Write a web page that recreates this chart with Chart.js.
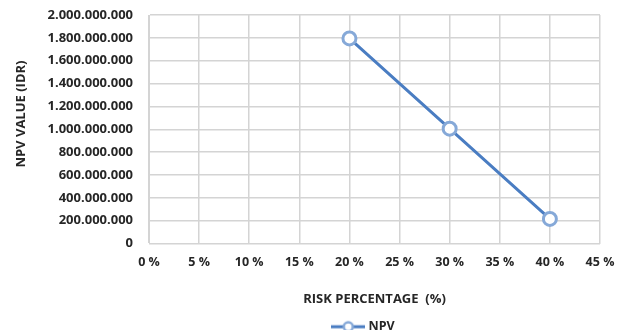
<!DOCTYPE html>
<html>
<head>
<meta charset="utf-8">
<script src="https://cdn.jsdelivr.net/npm/chart.js@4"></script>
<style>
  html, body { margin: 0; padding: 0; background: #ffffff; }
  #wrap { width: 623px; height: 330px; }
</style>
</head>
<body>
<div id="wrap"><canvas id="c" width="623" height="330"></canvas></div>
<script>
// Risk percentage (%) and resulting NPV (IDR)
const riskPct = [20, 30, 40];
const npvValues = [1795000000, 1005000000, 215000000];
const seriesName = 'NPV';
const xTitle = 'RISK PERCENTAGE  (%)';
// leading spaces lift the rotated title a little above the plot's middle
const yTitle = '         NPV VALUE (IDR)';

const LINE = '#4a7dc2';
const MARK = '#86a9d8';
const GRID = '#d4d4d4';
const TEXT = '#262626';
const FONT = '"Open Sans", "DejaVu Sans", sans-serif';

function dotted(n) {
  return String(Math.round(n)).replace(/\B(?=(\d{3})+(?!\d))/g, '.');
}

// legend icon: short line with a hollow circle
function legendIcon() {
  const cv = document.createElement('canvas');
  cv.width = 34; cv.height = 14;
  const g = cv.getContext('2d');
  g.strokeStyle = LINE; g.lineWidth = 3;
  g.beginPath(); g.moveTo(0, 7); g.lineTo(34, 7); g.stroke();
  g.fillStyle = '#ffffff'; g.strokeStyle = MARK; g.lineWidth = 2.5;
  g.beginPath(); g.arc(17, 7, 4.5, 0, Math.PI * 2); g.fill(); g.stroke();
  return cv;
}

// keep the legend under the plot area, near the bottom edge
const legendUnderPlot = {
  id: 'legendUnderPlot',
  afterLayout(chart) {
    const lg = chart.legend;
    if (lg) {
      const h = lg.bottom - lg.top;
      lg.left = chart.chartArea.left - 10;
      lg.right = chart.chartArea.right - 10;
      lg.top = chart.height - h + 13;
      lg.bottom = lg.top + h;
    }
  }
};

new Chart(document.getElementById('c'), {
  type: 'line',
  data: {
    datasets: [{
      label: seriesName,
      data: riskPct.map((x, i) => ({ x: x, y: npvValues[i] })),
      borderColor: LINE,
      borderWidth: 3,
      pointRadius: 6.5,
      pointBorderWidth: 3,
      pointBorderColor: MARK,
      pointBackgroundColor: '#ffffff',
      pointHoverRadius: 6.5,
      tension: 0
    }]
  },
  options: {
    responsive: false,
    animation: false,
    devicePixelRatio: 1,
    layout: { padding: { top: 15, right: 23, left: 0, bottom: 0 } },
    plugins: {
      tooltip: { enabled: false },
      legend: {
        position: 'bottom',
        labels: {
          usePointStyle: true,
          pointStyle: legendIcon(),
          pointStyleWidth: 28,
          padding: 2,
          color: TEXT,
          font: { family: FONT, size: 12.5, weight: 'bold' }
        }
      }
    },
    scales: {
      x: {
        type: 'linear',
        min: 0, max: 45,
        border: { color: GRID },
        grid: { color: GRID, drawTicks: false, lineWidth: 1.5 },
        ticks: {
          stepSize: 5, padding: 11, color: TEXT,
          maxRotation: 0,
          font: { family: FONT, size: 12.5, weight: 'bold' },
          callback: v => v + ' %'
        },
        title: {
          display: true, text: xTitle, color: TEXT,
          font: { family: FONT, size: 13, weight: 'bold' },
          padding: { top: 0, bottom: -2 }
        },
        afterFit: s => { s.height = 62; s.paddingLeft = 0; s.paddingRight = 0; }
      },
      y: {
        min: 0, max: 2000000000,
        border: { color: GRID },
        grid: { color: GRID, drawTicks: false, lineWidth: 1.5 },
        ticks: {
          stepSize: 200000000, padding: 16, color: TEXT,
          font: { family: FONT, size: 13, weight: 'bold' },
          callback: v => dotted(v)
        },
        title: {
          display: true, text: yTitle, color: TEXT,
          font: { family: FONT, size: 13, weight: 'bold' },
          padding: { top: 13, bottom: 0 }
        },
        afterFit: s => { s.width = 149; s.paddingTop = 0; s.paddingBottom = 0; }
      }
    }
  },
  plugins: [legendUnderPlot]
});
</script>
</body>
</html>
